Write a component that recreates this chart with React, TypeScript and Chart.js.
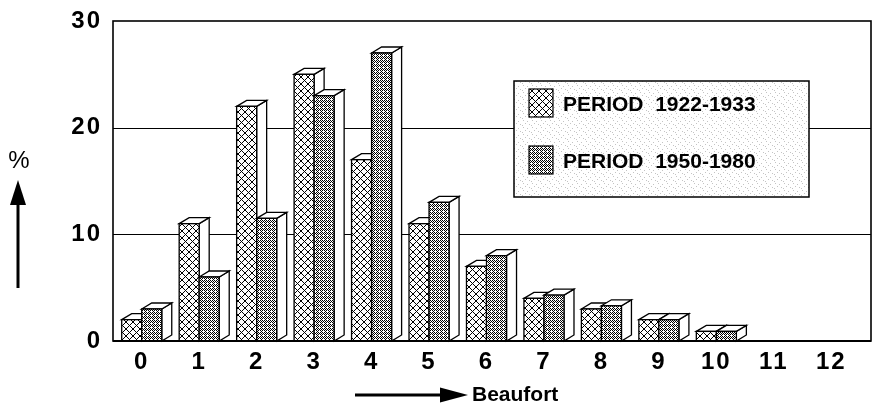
import React, { useEffect, useRef } from 'react';
import { Chart, registerables } from 'chart.js';

Chart.register(...registerables);

// ---- data ----
const categories = ['0', '1', '2', '3', '4', '5', '6', '7', '8', '9', '10', '11', '12'];
const period1922 = [2, 11, 22, 25, 17, 11, 7, 4, 3, 2, 0.9, 0, 0];
const period1950 = [3, 6, 11.5, 23, 27, 13, 8, 4.3, 3.3, 2, 0.9, 0, 0];
const seriesLabels = ['PERIOD  1922-1933', 'PERIOD  1950-1980'];
const gridValues = [10, 20];
const yMin = 0;
const yMax = 30;
const yStep = 10;
const xTitle = 'Beaufort';
const yTitle = '%';

const FONT = '"Liberation Sans", Arial, Helvetica, sans-serif';
const DX = 10;
const DY = -6;

function makeTile(w: number, h: number, draw: (c: CanvasRenderingContext2D) => void) {
  const cv = document.createElement('canvas');
  cv.width = w;
  cv.height = h;
  const c = cv.getContext('2d')!;
  draw(c);
  return cv;
}

function crossHatch(ctx: CanvasRenderingContext2D) {
  const n = 7;
  const tile = makeTile(n, n, (c) => {
    c.fillStyle = '#fff';
    c.fillRect(0, 0, n, n);
    c.fillStyle = '#000';
    for (let i = 0; i < n; i++) {
      c.fillRect(i, i, 1, 1);
      c.fillRect(n - 1 - i, i, 1, 1);
    }
  });
  return ctx.createPattern(tile, 'repeat')!;
}

function stipple(ctx: CanvasRenderingContext2D) {
  const tile = makeTile(4, 4, (c) => {
    c.fillStyle = '#fff';
    c.fillRect(0, 0, 4, 4);
    c.fillStyle = '#000';
    const pts = [[0, 0], [2, 0], [1, 1], [3, 1], [0, 2], [2, 2], [1, 3]];
    pts.forEach(([x, y]) => c.fillRect(x, y, 1, 1));
  });
  return ctx.createPattern(tile, 'repeat')!;
}

function speckle(ctx: CanvasRenderingContext2D) {
  const tile = makeTile(9, 7, (c) => {
    c.fillStyle = '#fff';
    c.fillRect(0, 0, 9, 7);
    c.fillStyle = '#c4c4c4';
    const pts = [[1, 1], [5, 2], [3, 4], [7, 5], [0, 6]];
    pts.forEach(([x, y]) => c.fillRect(x, y, 1, 1));
  });
  return ctx.createPattern(tile, 'repeat')!;
}

const framePlugin = {
  id: 'frameGrid',
  beforeDraw(chart: any) {
    (chart.ctx as any).letterSpacing = '2px';
  },
  beforeDatasetsDraw(chart: any) {
    const { ctx, chartArea, scales } = chart;
    (ctx as any).letterSpacing = '0px';
    const right = chartArea.right + 11;
    ctx.save();
    ctx.strokeStyle = '#000';
    ctx.lineWidth = 1.2;
    gridValues.forEach((v) => {
      const y = Math.round(scales.y.getPixelForValue(v)) + 0.5;
      ctx.beginPath();
      ctx.moveTo(chartArea.left, y);
      ctx.lineTo(right, y);
      ctx.stroke();
    });
    ctx.lineWidth = 1.6;
    ctx.strokeRect(chartArea.left, chartArea.top, right - chartArea.left, chartArea.bottom - chartArea.top);
    ctx.restore();
  },
  beforeDatasetDraw() {
    return false;
  },
  afterDatasetsDraw(chart: any) {
    const { ctx } = chart;
    const pats = [crossHatch(ctx), stipple(ctx)];
    const metas = chart.data.datasets.map((_: any, i: number) => chart.getDatasetMeta(i));
    ctx.save();
    ctx.strokeStyle = '#000';
    ctx.lineWidth = 1.3;
    ctx.lineJoin = 'miter';
    for (let i = 0; i < categories.length; i++) {
      metas.forEach((m: any, di: number) => {
        const el = m.data[i];
        const { x, y, base, width } = el.getProps(['x', 'y', 'base', 'width'], true);
        if (Math.abs(base - y) < 0.5) return;
        const l = x - width / 2;
        const r = x + width / 2;
        // side face
        ctx.beginPath();
        ctx.moveTo(r, y);
        ctx.lineTo(r + DX, y + DY);
        ctx.lineTo(r + DX, base + DY);
        ctx.lineTo(r, base);
        ctx.closePath();
        ctx.fillStyle = '#fff';
        ctx.fill();
        ctx.stroke();
        // top face
        ctx.beginPath();
        ctx.moveTo(l, y);
        ctx.lineTo(l + DX, y + DY);
        ctx.lineTo(r + DX, y + DY);
        ctx.lineTo(r, y);
        ctx.closePath();
        ctx.fill();
        ctx.stroke();
        // front face
        ctx.fillStyle = pats[di];
        ctx.fillRect(l, y, width, base - y);
        ctx.strokeRect(l, y, width, base - y);
      });
    }
    // baseline
    const b = chart.chartArea.bottom;
    ctx.lineWidth = 2;
    ctx.beginPath();
    ctx.moveTo(chart.chartArea.left, b);
    ctx.lineTo(chart.chartArea.right + 11, b);
    ctx.stroke();
    ctx.restore();
  },
  afterDraw(chart: any) {
    const { ctx, chartArea } = chart;
    (ctx as any).letterSpacing = '0px';
    const pats = [crossHatch(ctx), stipple(ctx)];
    ctx.save();
    // legend
    const lx = chartArea.left + 401;
    const ly = chartArea.top + 60;
    const lw = 295;
    const lh = 116;
    ctx.fillStyle = speckle(ctx);
    ctx.fillRect(lx, ly, lw, lh);
    ctx.strokeStyle = '#000';
    ctx.lineWidth = 1.5;
    ctx.strokeRect(lx, ly, lw, lh);
    const rows = [22, 79];
    seriesLabels.forEach((lab, i) => {
      const sy = ly + rows[i] - 14;
      ctx.fillStyle = pats[i];
      ctx.fillRect(lx + 15, sy, 24, 28);
      ctx.lineWidth = 1.2;
      ctx.strokeRect(lx + 15, sy, 24, 28);
      ctx.fillStyle = '#000';
      ctx.font = `bold 21px ${FONT}`;
      ctx.textAlign = 'left';
      ctx.textBaseline = 'middle';
      ctx.fillText(lab, lx + 49, ly + rows[i] + 2);
    });

    // y title with arrow
    ctx.fillStyle = '#000';
    ctx.font = `24px ${FONT}`;
    ctx.textAlign = 'center';
    ctx.textBaseline = 'middle';
    ctx.fillText(yTitle, 19, 161);
    ctx.strokeStyle = '#000';
    ctx.lineWidth = 3;
    ctx.beginPath();
    ctx.moveTo(18, 288);
    ctx.lineTo(18, 200);
    ctx.stroke();
    ctx.beginPath();
    ctx.moveTo(18, 180);
    ctx.lineTo(26, 205);
    ctx.lineTo(10, 205);
    ctx.closePath();
    ctx.fill();

    // x title with arrow
    ctx.beginPath();
    ctx.moveTo(355, 395);
    ctx.lineTo(445, 395);
    ctx.stroke();
    ctx.beginPath();
    ctx.moveTo(468, 395);
    ctx.lineTo(440, 387.5);
    ctx.lineTo(440, 402.5);
    ctx.closePath();
    ctx.fill();
    ctx.font = `bold 21px ${FONT}`;
    ctx.textAlign = 'left';
    ctx.fillText(xTitle, 472, 395);
    ctx.restore();
  },
};

export default function App() {
  const ref = useRef<HTMLCanvasElement | null>(null);
  useEffect(() => {
    if (!ref.current) return;
    const chart = new Chart(ref.current, {
      type: 'bar',
      data: {
        labels: categories,
        datasets: [
          { label: seriesLabels[0], data: period1922, backgroundColor: '#fff', borderColor: '#000', borderWidth: 0 },
          { label: seriesLabels[1], data: period1950, backgroundColor: '#fff', borderColor: '#000', borderWidth: 0 },
        ],
      },
      options: {
        responsive: false,
        animation: false,
        devicePixelRatio: 1,
        layout: { padding: { top: 21, right: 13, left: 0, bottom: 0 } },
        datasets: { bar: { categoryPercentage: 0.697, barPercentage: 1 } },
        plugins: { legend: { display: false }, tooltip: { enabled: false }, title: { display: false } },
        scales: {
          x: {
            grid: { display: false, drawTicks: false },
            border: { display: false },
            ticks: { color: '#000', font: { family: FONT, size: 24, weight: 'bold' }, padding: 7, maxRotation: 0, autoSkip: false },
            afterFit(scale: any) {
              scale.height = 65;
              scale.paddingLeft = 0;
              scale.paddingRight = 0;
            },
          },
          y: {
            min: yMin,
            max: yMax,
            grid: { display: false, drawTicks: false },
            border: { display: false },
            ticks: { stepSize: yStep, color: '#000', font: { family: FONT, size: 24, weight: 'bold' }, padding: 11 },
            afterFit(scale: any) {
              scale.width = 113;
              scale.paddingTop = 0;
              scale.paddingBottom = 0;
            },
          },
        },
      },
      plugins: [framePlugin],
    });
    return () => chart.destroy();
  }, []);
  return (
    <div style={{ position: 'absolute', left: 0, top: 0, width: 873, height: 406, background: '#fff' }}>
      <canvas ref={ref} width={873} height={406} style={{ display: 'block' }} />
    </div>
  );
}
